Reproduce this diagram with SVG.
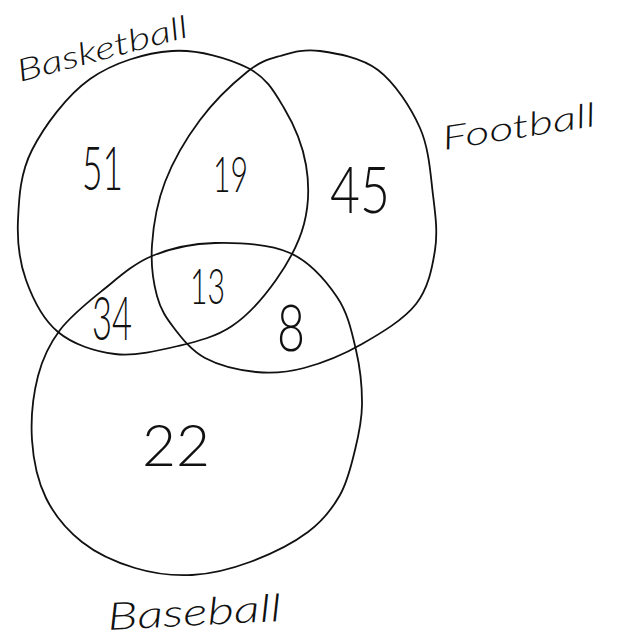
<svg xmlns="http://www.w3.org/2000/svg" width="621" height="639" viewBox="0 0 621 639">
<style>
.ring{fill:none;stroke:#111;stroke-width:1.8;stroke-linejoin:round}
.lbl{font-family:Lato,"DejaVu Sans",sans-serif;font-style:italic;font-weight:300;fill:#111}
.num{font-family:Lato,"DejaVu Sans",sans-serif;font-weight:300;fill:#111}
</style>
<rect width="621" height="639" fill="#fff"/>
<g id="connectors"></g>
<g id="basketball">
<path class="ring" d="M172,51 C198.3,49.2 229.3,58.5 248,68 C266.7,77.5 274.3,91.8 284,108 C293.7,124.2 302.7,145.7 306,165 C309.3,184.3 309,204.8 304,224 C299,243.2 288,263 276,280 C264,297 248.3,315 232,326 C215.7,337 197.5,341.3 178,346 C158.5,350.7 135,356.3 115,354 C95,351.7 72.8,344.3 58,332 C43.2,319.7 32.7,298.7 26,280 C19.3,261.3 17,241.7 18,220 C19,198.3 20,173.5 32,150 C44,126.5 66.7,95.5 90,79 C113.3,62.5 145.7,52.8 172,51 Z"/>
<text class="lbl" x="20" y="82" font-size="31" textLength="176" lengthAdjust="spacingAndGlyphs" transform="rotate(-15 20 82)">Basketball</text>
</g>
<g id="football">
<path class="ring" d="M320,51 C336.3,53.3 361.3,57.2 378,70 C394.7,82.8 410.8,107.2 420,128 C429.2,148.8 430.5,174.7 433,195 C435.5,215.3 437.8,231.8 435,250 C432.2,268.2 428.2,288.3 416,304 C403.8,319.7 380.7,333.3 362,344 C343.3,354.7 321.7,363.3 304,368 C286.3,372.7 272.5,373.7 256,372 C239.5,370.3 218.7,365.3 205,358 C191.3,350.7 182,338.3 174,328 C166,317.7 160.7,309.8 157,296 C153.3,282.2 150.7,264 152,245 C153.3,226 157,202.8 165,182 C173,161.2 186.3,138.3 200,120 C213.7,101.7 233.7,82.7 247,72 C260.3,61.3 267.8,59.5 280,56 C292.2,52.5 303.7,48.7 320,51 Z"/>
<text class="lbl" x="444" y="150" font-size="33" textLength="155" lengthAdjust="spacingAndGlyphs" transform="rotate(-9 444 150)">Football</text>
</g>
<g id="baseball">
<path class="ring" d="M215,243 C238,242.5 269.7,244 290,253 C310.3,262 326,280.8 337,297 C348,313.2 351.8,332 356,350 C360.2,368 362.2,388.3 362,405 C361.8,421.7 358.7,435 355,450 C351.3,465 347.8,481.3 340,495 C332.2,508.7 323,520.8 308,532 C293,543.2 269.3,554.8 250,562 C230.7,569.2 211.2,574 192,575 C172.8,576 153.3,573.5 135,568 C116.7,562.5 96.8,553.7 82,542 C67.2,530.3 54.3,515 46,498 C37.7,481 33.3,460.3 32,440 C30.7,419.7 33.3,394.3 38,376 C42.7,357.7 49.2,344.3 60,330 C70.8,315.7 87.7,302.3 103,290 C118.3,277.7 133.3,263.8 152,256 C170.7,248.2 192,243.5 215,243 Z"/>
<text class="lbl" x="108" y="630" font-size="38" textLength="174" lengthAdjust="spacingAndGlyphs" transform="rotate(-3 108 630)">Baseball</text>
</g>
<g id="regions">
<text class="num" x="82" y="190" font-size="62" textLength="41" lengthAdjust="spacingAndGlyphs">51</text>
<text class="num" x="213" y="192" font-size="50" textLength="35" lengthAdjust="spacingAndGlyphs">19</text>
<text class="num" x="330" y="213" font-size="66" textLength="60" lengthAdjust="spacingAndGlyphs">45</text>
<text class="num" x="92" y="340" font-size="62" textLength="40" lengthAdjust="spacingAndGlyphs">34</text>
<text class="num" x="190" y="304" font-size="50" textLength="35" lengthAdjust="spacingAndGlyphs">13</text>
<text class="num" x="277" y="351" font-size="66" textLength="28" lengthAdjust="spacingAndGlyphs">8</text>
<text class="num" x="142" y="466" font-size="58" textLength="68" lengthAdjust="spacingAndGlyphs">22</text>
</g>
</svg>
